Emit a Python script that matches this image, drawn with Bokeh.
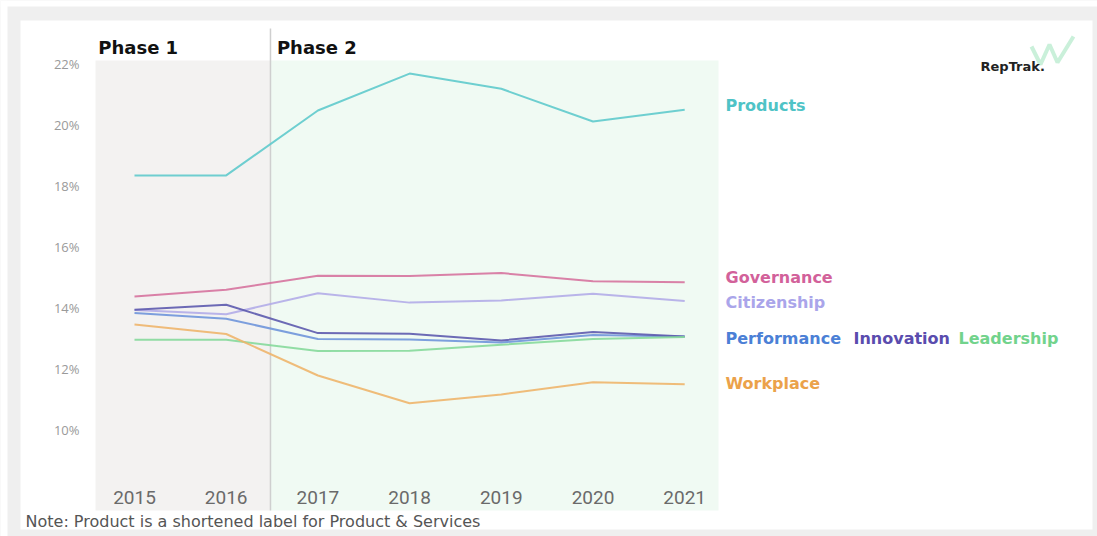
from bokeh.plotting import figure
from bokeh.models import Range1d, FixedTicker
from bokeh.core.properties import value
from bokeh.embed import file_html
from bokeh.resources import INLINE

# ---------------- data ----------------
years = [2015, 2016, 2017, 2018, 2019, 2020, 2021]
products = [18.33, 18.33, 20.46, 21.67, 21.17, 20.10, 20.48]
governance = [14.36, 14.58, 15.04, 15.03, 15.13, 14.86, 14.83]
citizenship = [13.92, 13.78, 14.47, 14.16, 14.23, 14.45, 14.21]
performance = [13.82, 13.63, 12.97, 12.95, 12.85, 13.10, 13.05]
innovation = [13.93, 14.09, 13.16, 13.14, 12.92, 13.20, 13.05]
leadership = [12.94, 12.94, 12.57, 12.58, 12.78, 12.97, 13.03]
workplace = [13.44, 13.13, 11.77, 10.86, 11.15, 11.55, 11.48]

series_names = ["Products", "Governance", "Citizenship", "Performance",
                "Innovation", "Leadership", "Workplace"]
series_values = [products, governance, citizenship, performance,
                 innovation, leadership, workplace]
series_colors = ["#5fcacc", "#d6739f", "#b2ace8", "#6f95da",
                 "#5d5aae", "#86d99b", "#eeb56c"]

y_ticks = [10, 12, 14, 16, 18, 20, 22]
y_tick_labels = ["10%", "12%", "14%", "16%", "18%", "20%", "22%"]
x_tick_labels = ["2015", "2016", "2017", "2018", "2019", "2020", "2021"]

phase_names = ["Phase 1", "Phase 2"]
phase_start = 2014.575
phase_split = 2016.483
phase_end = 2021.369
note_text = "Note: Product is a shortened label for Product & Services"

# ---------------- figure ----------------
W, H = 1097, 536
X0 = 2015 - 134 / 91.7
X1 = X0 + W / 91.7
Y1 = 10 + 429 / 30.5
Y0 = Y1 - H / 30.5


def px_x(px):
    """page pixel -> data x (helper for decoration placement)"""
    return X0 + px / W * (X1 - X0)


def px_y(py):
    return Y1 - py / H * (Y1 - Y0)


p = figure(width=W, height=H, x_range=Range1d(X0, X1), y_range=Range1d(Y0, Y1),
           output_backend="svg", toolbar_location=None, min_border=0,
           background_fill_color="#efefef", border_fill_color="#efefef")
p.outline_line_color = None
p.grid.visible = False

# white page margin + card
p.quad(left=X0, right=X1, top=Y1, bottom=px_y(6), fill_color="white", line_color=None)
p.quad(left=X0, right=px_x(7), top=Y1, bottom=Y0, fill_color="white", line_color=None)
p.quad(left=px_x(20), right=px_x(1092), top=px_y(20), bottom=px_y(529),
       fill_color="white", line_color=None)

# phase shading
shade_top = px_y(60)
shade_bottom = px_y(510)
p.quad(left=[phase_start, phase_split], right=[phase_split, phase_end],
       top=shade_top, bottom=shade_bottom,
       fill_color=["#f3f2f1", "#f0faf3"], line_color=None)
p.segment(x0=phase_split, y0=shade_bottom, x1=phase_split, y1=px_y(28),
          line_color="#cfcfcf", line_width=1.5)

# phase titles
p.text(x=[phase_start + 0.03, phase_split + 0.07], y=[px_y(47)] * 2, text=phase_names,
       text_font=value("DejaVu Sans"), text_font_style="bold", text_font_size="18px",
       text_color="#111111", text_baseline="middle", text_align="left")

# lines
for name, vals, col in zip(series_names, series_values, series_colors):
    p.line(years, vals, line_color=col, line_width=2.0, line_alpha=0.9)

# right labels
label_x = px_x(725)
single = [("Products", products, "#4fc3c6", 0.14), ("Governance", governance, "#d2619a", 0.15),
          ("Citizenship", citizenship, "#aaa5ea", -0.05), ("Workplace", workplace, "#eba24a", 0.03)]
for name, vals, col, dy in single:
    p.text(x=[label_x], y=[vals[-1] + dy], text=[name],
           text_font=value("DejaVu Sans"), text_font_style="bold", text_font_size="16px",
           text_color=col, text_baseline="middle", text_align="left")
row = [("Performance", "#4b80d6", 0), ("Innovation", "#5a4cae", 128), ("Leadership", "#72d38c", 233)]
for name, col, off in row:
    p.text(x=[label_x], y=[performance[-1] - 0.07], text=[name], x_offset=off,
           text_font=value("DejaVu Sans"), text_font_style="bold", text_font_size="16px",
           text_color=col, text_baseline="middle", text_align="left")

# logo
p.multi_line(xs=[[px_x(1031), px_x(1040), px_x(1049), px_x(1057), px_x(1073)]],
             ys=[[px_y(46), px_y(64), px_y(44), px_y(62), px_y(36)]],
             line_color="#c4eed6", line_width=4, line_alpha=0.9)
p.text(x=[px_x(980)], y=[px_y(66)], text=["RepTrak."],
       text_font=value("DejaVu Sans"), text_font_style="bold", text_font_size="13px",
       text_color="#222222", text_baseline="middle", text_align="left")

# note
p.text(x=[px_x(25)], y=[px_y(521)], text=[note_text],
       text_font=value("DejaVu Sans"), text_font_size="16px", text_color="#555555",
       text_baseline="middle", text_align="left")

# axes (placed inside the frame)
p.yaxis.fixed_location = phase_start
p.yaxis.ticker = FixedTicker(ticks=y_ticks)
p.yaxis.major_label_overrides = dict(zip(y_ticks, y_tick_labels))
p.yaxis.axis_line_color = None
p.yaxis.major_tick_line_color = None
p.yaxis.minor_tick_line_color = None
p.yaxis.major_label_standoff = 10
p.yaxis.major_label_text_font = "Open Sans"
p.yaxis.major_label_text_font_size = "13px"
p.yaxis.major_label_text_color = "#9a9a9a"

p.xaxis.fixed_location = px_y(478)
p.xaxis.ticker = FixedTicker(ticks=years)
p.xaxis.major_label_overrides = dict(zip(years, x_tick_labels))
p.xaxis.axis_line_color = None
p.xaxis.major_tick_line_color = None
p.xaxis.minor_tick_line_color = None
p.xaxis.major_label_standoff = 6
p.xaxis.major_label_text_font = "Roboto"
p.xaxis.major_label_text_font_size = "19px"
p.xaxis.major_label_text_color = "#6a6a6a"

open("out.html", "w").write(file_html(p, INLINE))
